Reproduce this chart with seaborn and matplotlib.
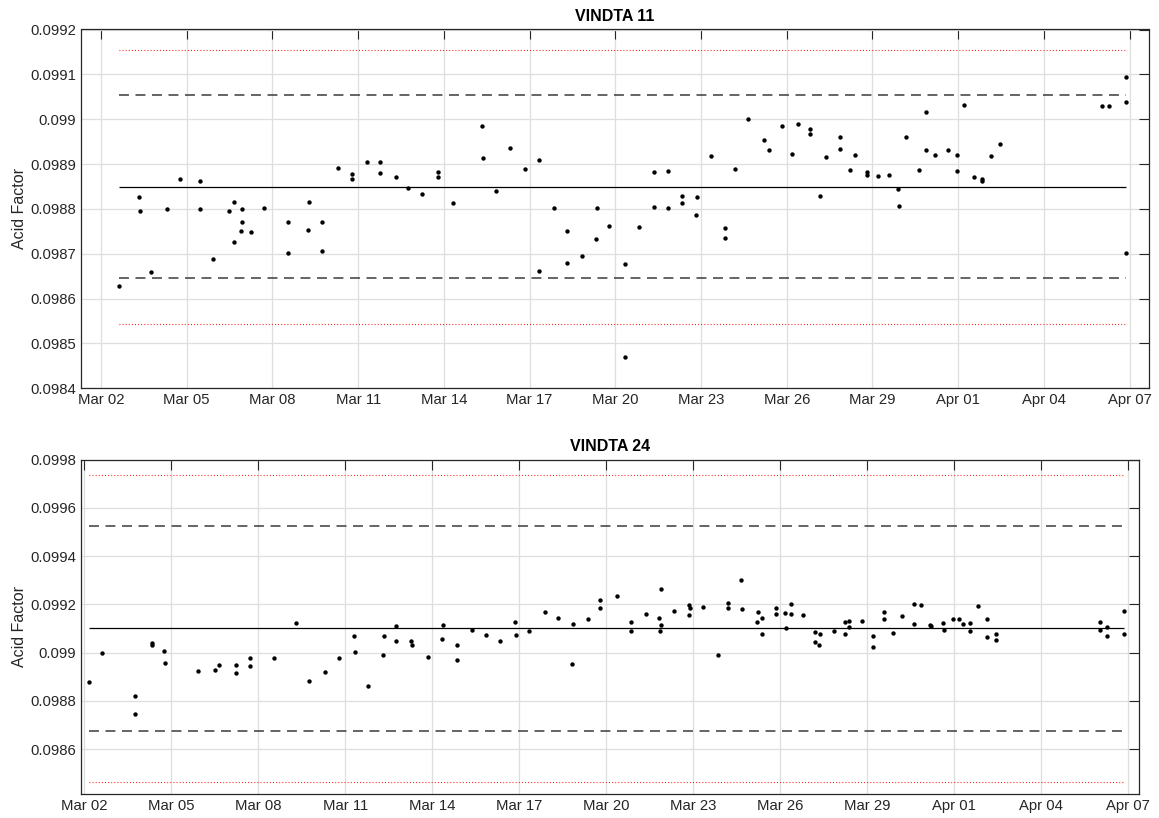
import numpy as np
import pandas as pd
import matplotlib
matplotlib.use("Agg")
import matplotlib.pyplot as plt
import matplotlib.dates as mdates
import seaborn as sns

# ---------------- data (day offsets from Mar 02, acid factor) ----------------
v11_days = [0.64, 1.34, 1.36, 1.75, 2.32, 2.77, 3.46, 3.48, 3.92, 4.49, 4.65, 4.64, 4.92, 4.94, 4.91,
            5.26, 5.70, 6.55, 6.54, 7.27, 7.26, 7.74, 7.73, 8.29, 8.78, 8.78, 9.31, 9.76, 9.78, 10.31,
            10.73, 11.25, 11.79, 11.79, 12.33, 13.32, 13.36, 13.81, 14.31, 14.85, 15.32, 15.34, 15.84,
            16.31, 16.31, 16.82, 17.35, 17.34, 17.78, 18.33, 18.35, 18.83, 19.35, 19.35, 19.85, 19.83,
            20.33, 20.33, 20.85, 20.84, 21.35, 21.84, 21.84, 22.19, 22.65, 23.20, 23.37, 23.84, 24.20,
            24.39, 24.81, 24.83, 25.18, 25.38, 25.86, 25.86, 26.23, 26.38, 26.82, 26.82, 27.19, 27.58,
            27.90, 27.92, 28.18, 28.63, 28.87, 28.88, 29.19, 29.64, 29.95, 29.96, 30.19, 30.55, 30.83,
            30.83, 31.14, 31.45, 35.02, 35.29, 35.86, 35.86, 35.87]
v11_vals = [0.0986286, 0.0988271, 0.0987944, 0.0986584, 0.0988000, 0.0988658, 0.0988613, 0.0988007,
            0.0986888, 0.0987959, 0.0988152, 0.0987260, 0.0988007, 0.0987699, 0.0987513, 0.0987483,
            0.0988030, 0.0987699, 0.0987022, 0.0988160, 0.0987535, 0.0987706, 0.0987067, 0.0988918,
            0.0988784, 0.0988658, 0.0989045, 0.0989045, 0.0988792, 0.0988710, 0.0988465, 0.0988323,
            0.0988814, 0.0988717, 0.0988138, 0.0989848, 0.0989126, 0.0988390, 0.0989350, 0.0988896,
            0.0989082, 0.0986606, 0.0988026, 0.0987513, 0.0986799, 0.0986941, 0.0988026, 0.0987320,
            0.0987625, 0.0986777, 0.0984688, 0.0987587, 0.0988822, 0.0988048, 0.0988837, 0.0988011,
            0.0988286, 0.0988138, 0.0988271, 0.0987855, 0.0989186, 0.0987565, 0.0987342, 0.0988896,
            0.0990000, 0.0989528, 0.0989320, 0.0989848, 0.0989223, 0.0989885, 0.0989788, 0.0989669,
            0.0988286, 0.0989149, 0.0989602, 0.0989342, 0.0988866, 0.0989193, 0.0988829, 0.0988747,
            0.0988725, 0.0988755, 0.0988442, 0.0988071, 0.0989595, 0.0988866, 0.0990167, 0.0989320,
            0.0989208, 0.0989312, 0.0989200, 0.0988836, 0.0990323, 0.0988710, 0.0988673, 0.0988628,
            0.0989186, 0.0989454, 0.0990301, 0.0990301, 0.0990941, 0.0990383, 0.0987015]

v24_days = [0.15, 0.62, 1.75, 1.75, 2.33, 2.34, 2.76, 2.77, 3.92, 4.52, 4.64, 5.23, 5.23, 5.70, 5.71,
            6.54, 7.30, 7.75, 8.30, 8.79, 9.31, 9.33, 9.78, 10.31, 10.34, 10.74, 10.76, 11.25, 11.29,
            11.84, 12.37, 12.34, 12.85, 12.86, 13.36, 13.84, 14.35, 14.86, 14.87, 15.34, 15.88, 16.34,
            16.84, 16.83, 17.36, 17.79, 17.79, 18.36, 18.86, 18.85, 19.36, 19.89, 19.83, 19.87, 19.86,
            20.34, 20.86, 20.88, 20.85, 21.35, 21.85, 22.20, 22.19, 22.66, 22.67, 23.22, 23.21, 23.36,
            23.38, 23.84, 23.84, 24.17, 24.20, 24.37, 24.37, 24.80, 25.18, 25.18, 25.38, 25.35, 25.86,
            26.22, 26.24, 26.37, 26.37, 26.81, 27.19, 27.19, 27.57, 27.58, 27.90, 28.19, 28.61, 28.61,
            28.86, 29.18, 29.20, 29.61, 29.63, 29.95, 30.18, 30.31, 30.53, 30.55, 30.81, 31.12, 31.13,
            31.43, 31.43, 35.01, 35.02, 35.28, 35.27, 35.84, 35.85]
v24_vals = [0.0988797, 0.0990000, 0.0988203, 0.0987471, 0.0990387, 0.0990332, 0.0990069, 0.0989558,
            0.0989254, 0.0989295, 0.0989502, 0.0989475, 0.0989157, 0.0989793, 0.0989461, 0.0989765,
            0.0991244, 0.0988839, 0.0989185, 0.0989765, 0.0990691, 0.0990028, 0.0988632, 0.0989903,
            0.0990691, 0.0991092, 0.0990498, 0.0990498, 0.0990318, 0.0989807, 0.0991147, 0.0990553,
            0.0990304, 0.0989710, 0.0990940, 0.0990746, 0.0990470, 0.0991272, 0.0990746, 0.0990898,
            0.0991686, 0.0991424, 0.0991175, 0.0989516, 0.0991382, 0.0992170, 0.0991852, 0.0992336,
            0.0991285, 0.0990885, 0.0991617, 0.0992640, 0.0991438, 0.0991147, 0.0990898, 0.0991714,
            0.0991990, 0.0991866, 0.0991548, 0.0991880, 0.0989917, 0.0992059, 0.0991866, 0.0992999,
            0.0991824, 0.0991686, 0.0991285, 0.0991424, 0.0990760, 0.0991866, 0.0991617, 0.0991631,
            0.0991023, 0.0992004, 0.0991617, 0.0991548, 0.0990871, 0.0990428, 0.0990788, 0.0990332,
            0.0990912, 0.0991285, 0.0990788, 0.0991313, 0.0991078, 0.0991299, 0.0990677, 0.0990249,
            0.0991700, 0.0991382, 0.0990815, 0.0991534, 0.0992018, 0.0991175, 0.0991962, 0.0991161,
            0.0991092, 0.0991244, 0.0990940, 0.0991396, 0.0991396, 0.0991175, 0.0991216, 0.0990885,
            0.0991921, 0.0991382, 0.0990650, 0.0990760, 0.0990525, 0.0991272, 0.0990940, 0.0991078,
            0.0990705, 0.0991742, 0.0990760]

titles = ["VINDTA 11", "VINDTA 24"]
means = [0.098849, 0.099100]
stds = [0.000102, 0.0002116]
ylims = [(0.0984, 0.0992), (0.098413, 0.0998)]
yticks_top = [0.0984, 0.0985, 0.0986, 0.0987, 0.0988, 0.0989, 0.0990, 0.0991, 0.0992]
ylabels_top = ["0.0984", "0.0985", "0.0986", "0.0987", "0.0988", "0.0989", "0.099", "0.0991", "0.0992"]
yticks_bot = [0.0986, 0.0988, 0.0990, 0.0992, 0.0994, 0.0996, 0.0998]
ylabels_bot = ["0.0986", "0.0988", "0.099", "0.0992", "0.0994", "0.0996", "0.0998"]
xlim_days = [(-0.70, 36.68), (-0.114, 36.37)]

base = pd.Timestamp("2023-03-02")

sns.set_theme(style="white")
plt.rcParams["font.family"] = ["Liberation Sans", "DejaVu Sans"]

fig = plt.figure(figsize=(11.59, 8.18), dpi=100)
W, H = 1159, 818
pos = [(81, 1149, 29.5, 388.3), (81, 1139, 459.5, 794.3)]

dk = "#262626"
datasets = [(v11_days, v11_vals), (v24_days, v24_vals)]
for i, (days, vals) in enumerate(datasets):
    l, r, t, b = pos[i]
    ax = fig.add_axes([l / W, 1 - b / H, (r - l) / W, (b - t) / H])
    df = pd.DataFrame({"time": base + pd.to_timedelta(days, unit="D"), "af": vals})
    x0, x1 = df["time"].min(), df["time"].max()
    m, s = means[i], stds[i]
    ax.hlines(m, x0, x1, color="black", lw=0.9, zorder=2)
    for k in (-2, 2):
        ax.hlines(m + k * s, x0, x1, color="#3a3a3a", lw=1.1, linestyles=(0, (6.5, 4.3)), zorder=2)
    for k in (-3, 3):
        ax.hlines(m + k * s, x0, x1, color="red", lw=0.8, linestyles=(0, (0.8, 2.0)), zorder=2)
    sns.scatterplot(data=df, x="time", y="af", ax=ax, s=10, color="black", linewidth=0, zorder=3)

    ax.set_xlim(base + pd.Timedelta(days=xlim_days[i][0]), base + pd.Timedelta(days=xlim_days[i][1]))
    ax.set_ylim(*ylims[i])
    ticks = [base + pd.Timedelta(days=d) for d in range(0, 37, 3)]
    ax.set_xticks(ticks)
    ax.xaxis.set_major_formatter(mdates.DateFormatter("%b %d"))
    if i == 0:
        ax.set_yticks(yticks_top)
        ax.set_yticklabels(ylabels_top)
    else:
        ax.set_yticks(yticks_bot)
        ax.set_yticklabels(ylabels_bot)
    ax.grid(True, color="#dedede", lw=0.9, zorder=0)
    ax.set_axisbelow(True)
    ax.tick_params(direction="in", length=7.5, width=0.8, top=True, right=True,
                   labelsize=10.7, colors=dk, labelcolor=dk, pad=3.5)
    for sp in ax.spines.values():
        sp.set_color(dk)
        sp.set_linewidth(0.9)
    ax.set_xlabel("")
    ax.set_ylabel("Acid Factor", fontsize=11.5, color=dk, labelpad=2)
    ax.set_title(titles[i], fontsize=11.5, fontweight="bold", color="black", pad=6)

fig.savefig("out.png", dpi=100)
